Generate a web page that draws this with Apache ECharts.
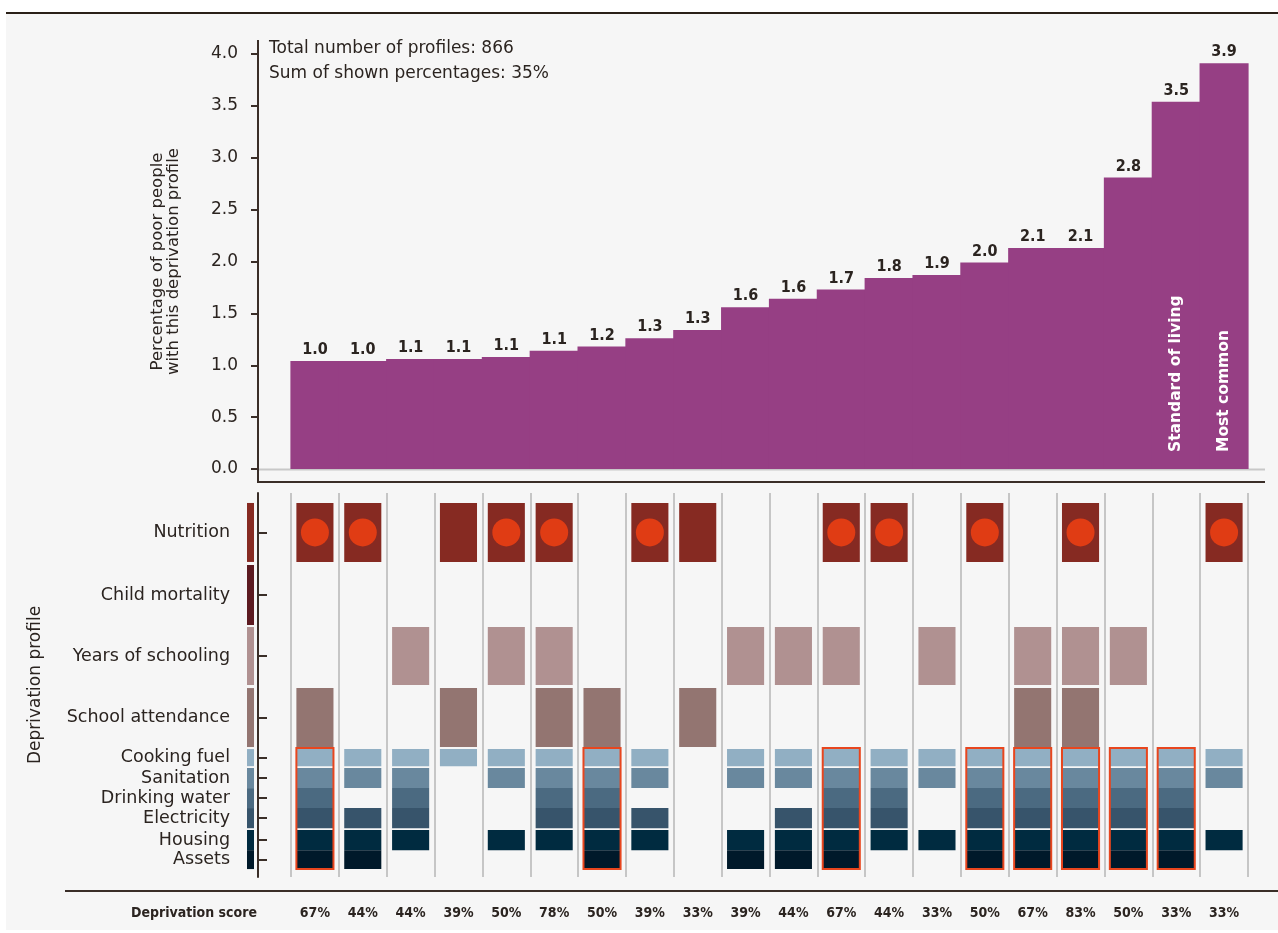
<!DOCTYPE html>
<html><head><meta charset="utf-8">
<script src="https://cdn.jsdelivr.net/npm/echarts@6/dist/echarts.min.js"></script>
<style>html,body{margin:0;padding:0;background:#fff}#c{width:1278px;height:933px}</style>
</head><body><div id="c"></div>
<script>
// ---------- data ----------
const profiles = ['P1','P2','P3','P4','P5','P6','P7','P8','P9','P10','P11','P12','P13','P14','P15','P16','P17','P18','P19','P20'];
const shares = [1.04,1.04,1.06,1.06,1.08,1.14,1.18,1.26,1.34,1.56,1.64,1.73,1.84,1.87,1.99,2.13,2.13,2.81,3.54,3.91];
const barNotes = ['','','','','','','','','','','','','','','','','','','Standard of living','Most common'];
const scores = ['67%','44%','44%','39%','50%','78%','50%','39%','33%','39%','44%','67%','44%','33%','50%','67%','83%','50%','33%','33%'];
const indicators = ['Nutrition','Child mortality','Years of schooling','School attendance','Cooking fuel','Sanitation','Drinking water','Electricity','Housing','Assets'];
// deprivation flags, one per profile (column)
const nutrition   = [1,1,0,1,1,1,0,1,1,0,0,1,1,0,1,0,1,0,0,1];
const nutritionDot= [1,1,0,0,1,1,0,1,0,0,0,1,1,0,1,0,1,0,0,1];
const childMort   = [0,0,0,0,0,0,0,0,0,0,0,0,0,0,0,0,0,0,0,0];
const schooling   = [0,0,1,0,1,1,0,0,0,1,1,1,0,1,0,1,1,1,0,0];
const attendance  = [1,0,0,1,0,1,1,0,1,0,0,0,0,0,0,1,1,0,0,0];
const cooking     = [1,1,1,1,1,1,1,1,0,1,1,1,1,1,1,1,1,1,1,1];
const sanitation  = [1,1,1,0,1,1,1,1,0,1,1,1,1,1,1,1,1,1,1,1];
const drinking    = [1,0,1,0,0,1,1,0,0,0,0,1,1,0,1,1,1,1,1,0];
const electricity = [1,1,1,0,0,1,1,1,0,0,1,1,1,0,1,1,1,1,1,0];
const housing     = [1,1,1,0,1,1,1,1,0,1,1,1,1,1,1,1,1,1,1,1];
const assets      = [1,1,0,0,0,0,1,0,0,1,1,1,0,0,1,1,1,1,1,0];

// ---------- styling / layout ----------
const flags = [nutrition, childMort, schooling, attendance, cooking, sanitation, drinking, electricity, housing, assets];
const rowColors = ['#862a22','#5c1a20','#b09191','#937571','#91afc3','#69889e','#4b6a81','#37546b','#002b40','#00192a'];
// row extents on the matrix axis (health/education weigh 3x a living-standard indicator)
const rowGeom = [[0,2.9],[3.05,6.0],[6.1,8.95],[9.1,12.0],[12.1,12.94],[13.03,14.02],[14.02,15.0],[15.0,15.99],[16.08,17.07],[17.07,18.0]];
const rowMid = rowGeom.map(g => (g[0]+g[1])/2);
const TXT = '#2b2420';
const FONT = '"DejaVu Sans", Lato, sans-serif';
const COND = 'condensed';
const BAR = '#963f84';

const barData = shares.map((v, i) => [i, v]);
const cellData = [];
flags.forEach((arr, r) => arr.forEach((f, c) => { if (f) cellData.push([c, r]); }));
const dotData = [];
nutritionDot.forEach((f, c) => { if (f) dotData.push([c, 0]); });
const outlineData = [];
profiles.forEach((p, c) => { if ([4,5,6,7,8,9].every(r => flags[r][c])) outlineData.push([c, 12]); });
const stripData = indicators.map((n, r) => [0, r]);

const chart = echarts.init(document.getElementById('c'));
chart.setOption({
  backgroundColor: '#ffffff',
  animation: false,
  graphic: [
    { type: 'rect', z: -10, silent: true, shape: { x: 6, y: 13, width: 1272, height: 917 }, style: { fill: '#f6f6f6' } },
    { type: 'line', z: 10, shape: { x1: 6, y1: 13, x2: 1278, y2: 13 }, style: { stroke: '#2a2018', lineWidth: 2 } },
    { type: 'line', z: 10, shape: { x1: 258, y1: 40, x2: 258, y2: 483 }, style: { stroke: '#3a2e28', lineWidth: 2 } },
    { type: 'line', z: 10, shape: { x1: 258, y1: 482, x2: 1265, y2: 482 }, style: { stroke: '#3a2e28', lineWidth: 2 } },
    { type: 'line', z: 1, shape: { x1: 258, y1: 469.5, x2: 1265, y2: 469.5 }, style: { stroke: '#c8c8c8', lineWidth: 2 } },
    { type: 'line', z: 10, shape: { x1: 65, y1: 891, x2: 1278, y2: 891 }, style: { stroke: '#3a2e28', lineWidth: 2 } },
    { type: 'text', z: 10, x: 269, y: 36, style: { text: 'Total number of profiles: 866\nSum of shown percentages: 35%', fill: TXT, font: '17px ' + FONT, lineHeight: 25 } },
    { type: 'text', z: 10, x: 257, y: 913, style: { text: 'Deprivation score', fill: TXT, font: 'condensed bold 14px "DejaVu Sans"', align: 'right', verticalAlign: 'middle' } }
  ],
  grid: [
    { left: 291, right: 30, top: 54, bottom: 933 - 469 },
    { left: 291, right: 30, top: 493, bottom: 933 - 877 }
  ],
  xAxis: [
    { type: 'category', gridIndex: 0, data: profiles, boundaryGap: true,
      axisLine: { show: false }, axisTick: { show: false }, axisLabel: { show: false }, splitLine: { show: false } },
    { type: 'category', gridIndex: 1, data: profiles, boundaryGap: true, position: 'bottom', offset: 36,
      axisLine: { show: false }, axisTick: { show: false },
      axisLabel: { show: true, interval: 0, margin: 0, verticalAlign: 'middle', color: TXT, fontFamily: 'DejaVu Sans', fontStyle: COND, fontSize: 14, fontWeight: 'bold',
        formatter: (v, i) => scores[i] },
      splitLine: { show: true, interval: 0, lineStyle: { color: '#c6c6c6', width: 2 } } }
  ],
  yAxis: [
    { type: 'value', gridIndex: 0, min: 0, max: 4, interval: 0.5, offset: 33,
      name: 'Percentage of poor people\nwith this deprivation profile', nameLocation: 'middle', nameRotate: 90, nameGap: 76,
      nameTextStyle: { color: TXT, fontFamily: FONT, fontSize: 16.5, lineHeight: 16 },
      axisLine: { show: true, lineStyle: { color: '#3a2e28', width: 2 } },
      axisTick: { show: true, inside: false, length: 7, lineStyle: { color: '#3a2e28', width: 2 } },
      axisLabel: { margin: 20, color: TXT, fontFamily: FONT, fontSize: 17, formatter: v => v.toFixed(1) },
      splitLine: { show: false } },
    { type: 'value', gridIndex: 1, inverse: true, min: -0.49, max: 18.39, offset: 33,
      name: 'Deprivation profile', nameLocation: 'middle', nameRotate: 90, nameGap: 214,
      nameTextStyle: { color: TXT, fontFamily: FONT, fontSize: 17 },
      axisLine: { show: true, lineStyle: { color: '#3a2e28', width: 2 } },
      axisTick: { show: true, inside: true, length: 9, customValues: rowMid, lineStyle: { color: '#3a2e28', width: 2 } },
      axisLabel: { margin: 28, customValues: rowMid, color: TXT, fontFamily: FONT, fontSize: 17.5,
        formatter: v => { let best = 0; rowMid.forEach((m, i) => { if (Math.abs(m - v) < Math.abs(rowMid[best] - v)) best = i; }); return indicators[best]; } },
      splitLine: { show: false } }
  ],
  series: [
    { type: 'custom', xAxisIndex: 0, yAxisIndex: 0, data: barData, silent: true, z: 2,
      renderItem: (params, api) => {
        const i = api.value(0), v = api.value(1);
        const p0 = api.coord([i, 0]), p1 = api.coord([i, v]);
        const w = api.size([1, 0])[0];
        const children = [
          { type: 'rect', shape: { x: p0[0] - w / 2 - 0.6, y: p1[1], width: w + 1.2, height: p0[1] - p1[1] }, style: { fill: BAR } },
          { type: 'text', x: p0[0], y: p1[1] - 3, style: { text: v.toFixed(1), fill: TXT, font: 'condensed bold 16px "DejaVu Sans"', align: 'center', verticalAlign: 'bottom' } }
        ];
        if (barNotes[i]) children.push({ type: 'text', x: p0[0], y: p0[1] - 17, rotation: Math.PI / 2,
          style: { text: barNotes[i], fill: '#ffffff', font: 'bold 15.5px ' + FONT, align: 'left', verticalAlign: 'middle' } });
        return { type: 'group', children };
      } },
    { type: 'custom', xAxisIndex: 1, yAxisIndex: 1, data: stripData, clip: false, silent: true,
      renderItem: (params, api) => {
        const r = api.value(1); const g = rowGeom[r];
        const y1 = api.coord([0, g[0]])[1], y2 = api.coord([0, g[1]])[1];
        const ax = params.coordSys.x - 33;
        return { type: 'rect', shape: { x: ax - 11, y: y1, width: 7, height: y2 - y1 }, style: { fill: rowColors[r] } };
      } },
    { type: 'custom', xAxisIndex: 1, yAxisIndex: 1, data: cellData, silent: true, z: 3,
      renderItem: (params, api) => {
        const c = api.value(0), r = api.value(1); const g = rowGeom[r];
        const p1 = api.coord([c, g[0]]), p2 = api.coord([c, g[1]]);
        const w = api.size([1, 0])[0] * 0.775;
        return { type: 'rect', shape: { x: p1[0] - w / 2, y: p1[1], width: w, height: p2[1] - p1[1] }, style: { fill: rowColors[r] } };
      } },
    { type: 'custom', xAxisIndex: 1, yAxisIndex: 1, data: dotData, silent: true, z: 4,
      renderItem: (params, api) => {
        const c = api.value(0); const g = rowGeom[api.value(1)];
        const p = api.coord([c, (g[0] + g[1]) / 2]);
        return { type: 'circle', shape: { cx: p[0], cy: p[1], r: 14 }, style: { fill: '#e03c14' } };
      } },
    { type: 'custom', xAxisIndex: 1, yAxisIndex: 1, data: outlineData, silent: true, z: 5,
      renderItem: (params, api) => {
        const c = api.value(0);
        const p1 = api.coord([c, rowGeom[4][0] - 0.05]), p2 = api.coord([c, rowGeom[9][1]]);
        const w = api.size([1, 0])[0] * 0.775;
        return { type: 'rect', shape: { x: p1[0] - w / 2, y: p1[1], width: w, height: p2[1] - p1[1] }, style: { fill: 'none', stroke: '#e8461e', lineWidth: 2 } };
      } }
  ]
});
</script></body></html>
